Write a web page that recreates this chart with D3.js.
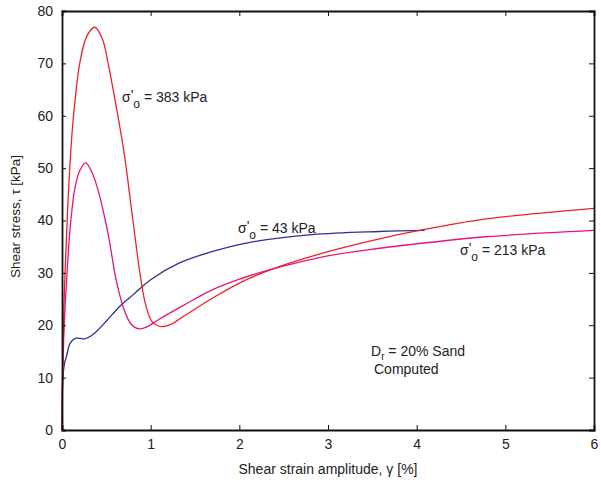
<!DOCTYPE html>
<html>
<head>
<meta charset="utf-8">
<script src="https://cdn.jsdelivr.net/npm/d3@7"></script>
<style>
  body { margin: 0; background: #fff; }
  svg text { font-family: "Liberation Sans", Arial, sans-serif; fill: #222; }
</style>
</head>
<body>
<div id="chart"></div>
<script>
// shear strain [%] / shear stress [kPa]
var gamma383 = [0, 0.01, 0.03, 0.06, 0.1, 0.13, 0.2, 0.28, 0.37, 0.455, 0.52, 0.63, 0.7, 0.8, 0.89, 0.95, 1.02, 1.12, 1.22, 1.38, 1.7, 2.08, 2.45, 3.01, 3.58, 4.03, 4.78, 5.4, 6];
var tau383   = [0, 15, 28, 40.8, 53.5, 60, 70, 75.2, 76.9, 74.7, 70, 60, 53, 40, 28.7, 23.5, 20.6, 19.75, 20.1, 21.8, 25.2, 28.7, 31.2, 34.1, 36.5, 38.1, 40.3, 41.4, 42.3];

var gamma213 = [0, 0.01, 0.03, 0.05, 0.087, 0.143, 0.2, 0.267, 0.33, 0.405, 0.518, 0.61, 0.7, 0.78, 0.875, 0.97, 1.1, 1.38, 1.7, 2.0, 2.26, 2.45, 3.01, 3.58, 4.14, 4.78, 6];
var tau213   = [0, 12, 22, 28, 37.6, 45.9, 49.5, 51, 49.5, 45.9, 37.6, 28.7, 23, 20.2, 19.3, 19.8, 21.2, 23.9, 26.8, 28.8, 30.2, 31.1, 33.3, 34.7, 35.8, 36.9, 38.1];

var gamma43 = [0, 0.01, 0.03, 0.05, 0.09, 0.15, 0.2, 0.256, 0.33, 0.405, 0.5, 0.67, 0.8, 1.0, 1.325, 1.7, 2.08, 2.82, 3.58, 4.09];
var tau43   = [0, 10, 12.8, 14, 16.5, 17.5, 17.5, 17.4, 18, 19.1, 20.8, 23.9, 25.8, 28.7, 31.9, 34.1, 35.7, 37.3, 37.9, 38.1];

var xTicks = [0, 1, 2, 3, 4, 5, 6];
var yTicks = [0, 10, 20, 30, 40, 50, 60, 70, 80];

var W = 601, H = 484,
    m = [11, 7, 54, 62]; // top right bottom left
var w = W - m[1] - m[3],
    h = H - m[0] - m[2];

var x = d3.scaleLinear().domain([0, 6]).range([0, w]);
var y = d3.scaleLinear().domain([0, 80]).range([h, 0]);

var svg = d3.select("#chart").append("svg")
    .attr("width", W)
    .attr("height", H);

var g = svg.append("g")
    .attr("transform", "translate(" + m[3] + "," + m[0] + ")");

var series = [
  { g: gamma43, t: tau43, color: "#2e3192" },
  { g: gamma213, t: tau213, color: "#e5157f" },
  { g: gamma383, t: tau383, color: "#ea2227" }
];

var line = d3.line()
    .x(function(d) { return x(d[0]); })
    .y(function(d) { return y(d[1]); })
    .curve(d3.curveCatmullRom.alpha(0.5));

series.forEach(function(s) {
  g.append("path")
      .datum(d3.zip(s.g, s.t))
      .attr("fill", "none")
      .attr("stroke", s.color)
      .attr("stroke-width", 1.3)
      .attr("d", line);
});

// axes, ticks point inward on all four sides
var fmt = d3.format("d");
var axB = g.append("g")
    .attr("transform", "translate(0," + h + ")")
    .call(d3.axisBottom(x).tickValues(xTicks).tickSize(-5).tickPadding(9).tickFormat(fmt));
var axT = g.append("g")
    .call(d3.axisTop(x).tickValues(xTicks).tickSize(-5).tickFormat(""));
var axL = g.append("g")
    .call(d3.axisLeft(y).tickValues(yTicks).tickSize(-4).tickPadding(9).tickFormat(fmt));
var axR = g.append("g")
    .attr("transform", "translate(" + w + ",0)")
    .call(d3.axisRight(y).tickValues(yTicks).tickSize(-5).tickFormat(""));

[axB, axT, axL, axR].forEach(function(a) {
  a.select(".domain").attr("stroke", "#111").attr("stroke-width", 1.8);
  a.selectAll(".tick line").attr("stroke", "#111").attr("stroke-width", 1);
  a.selectAll("text").attr("font-size", 14).attr("fill", "#222")
    .attr("font-family", "Liberation Sans, Arial, sans-serif");
});

// axis titles
svg.append("text")
    .attr("x", m[3] + w / 2)
    .attr("y", 474)
    .attr("text-anchor", "middle")
    .attr("font-size", 14)
    .text("Shear strain amplitude, \u03b3 [%]");

svg.append("text")
    .attr("transform", "translate(20," + (m[0] + h / 2 - 4) + ") rotate(-90)")
    .attr("text-anchor", "middle")
    .attr("font-size", 13.5)
    .text("Shear stress, \u03c4 [kPa]");

// curve labels
function sigmaLabel(px, py, rest) {
  var t = svg.append("text")
      .attr("x", px)
      .attr("y", py)
      .attr("font-size", 14);
  t.append("tspan").text("\u03c3");
  t.append("tspan").attr("dy", -2).text("'");
  t.append("tspan").attr("dy", 8).attr("font-size", 12).text("o");
  t.append("tspan").attr("dy", -6).text(" = " + rest);
}
sigmaLabel(122, 102, "383 kPa");
sigmaLabel(238, 233, "43 kPa");
sigmaLabel(460, 255, "213 kPa");

var dr = svg.append("text")
    .attr("x", 371)
    .attr("y", 356)
    .attr("font-size", 14);
dr.append("tspan").text("D");
dr.append("tspan").attr("dy", 4).attr("font-size", 10).text("r");
dr.append("tspan").attr("dy", -4).text(" = 20% Sand");

svg.append("text")
    .attr("x", 374)
    .attr("y", 374)
    .attr("font-size", 14)
    .text("Computed");
</script>
</body>
</html>
